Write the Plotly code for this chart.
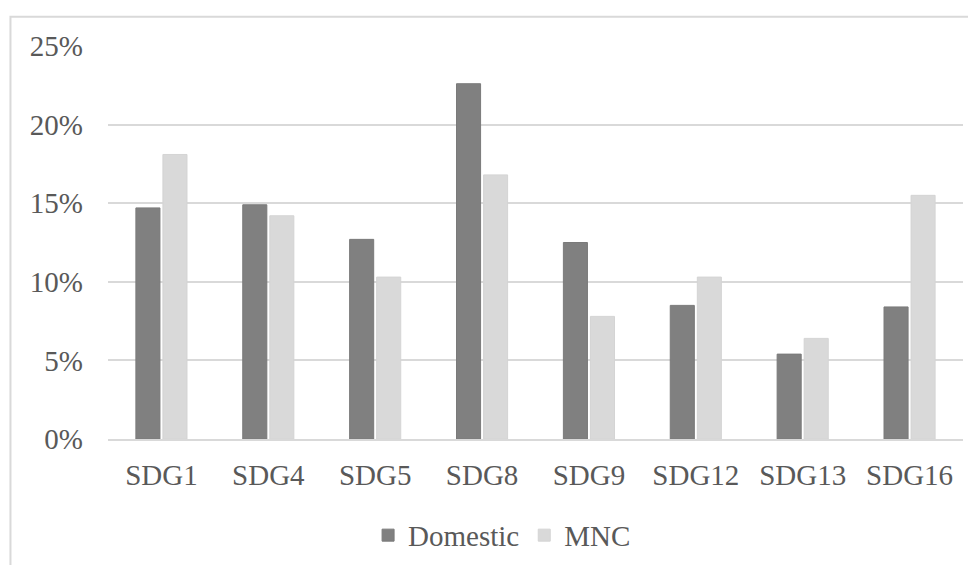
import plotly.graph_objects as go

categories = ["SDG1", "SDG4", "SDG5", "SDG8", "SDG9", "SDG12", "SDG13", "SDG16"]
domestic = [0.147, 0.149, 0.127, 0.226, 0.125, 0.085, 0.054, 0.084]
mnc = [0.181, 0.142, 0.103, 0.168, 0.078, 0.103, 0.064, 0.155]
y_ticks = [0, 0.05, 0.10, 0.15, 0.20, 0.25]
y_tick_labels = ["0%", "5%", "10%", "15%", "20%", "25%"]

FONT = "Liberation Serif"
TXT = "#595959"

fig = go.Figure()
fig.add_trace(go.Bar(name="Domestic", x=categories, y=domestic,
                     marker=dict(color="#808080", line=dict(color="#7a7a7a", width=1))))
fig.add_trace(go.Bar(name="MNC", x=categories, y=mnc,
                     marker=dict(color="#d9d9d9", line=dict(color="#d4d4d4", width=1))))

# page body has an 8px margin: work in screen coords and shift
S = 8
W, H = 976, 565
L = 108 - S
T = 45.7 - S
R = W - (962.7 - S)
B = H - (439.5 - S)
pw, ph = W - L - R, H - T - B

def px(x):  # screen x -> paper
    return (x - S - L) / pw

def py(y):  # screen y -> paper
    return (H - B - (y - S)) / ph

fig.update_layout(
    width=W, height=H,
    margin=dict(l=L, r=R, t=T, b=B, pad=0),
    paper_bgcolor="white", plot_bgcolor="white",
    barmode="group", bargap=0.494, bargroupgap=0.11,
    font=dict(family=FONT, size=29, color=TXT),
    showlegend=True,
    legend=dict(orientation="h", x=px(368), xanchor="left", y=py(536), yanchor="middle",
                font=dict(family=FONT, size=29, color=TXT), itemwidth=30,
                bgcolor="rgba(0,0,0,0)", tracegroupgap=0),
    xaxis=dict(showgrid=False, showline=True, linecolor="#d9d9d9", linewidth=2,
               ticks="", tickfont=dict(family=FONT, size=29, color=TXT),
               ticklabelstandoff=9),
    yaxis=dict(range=[0, 0.25], tickvals=y_ticks, ticktext=y_tick_labels,
               showgrid=True, gridcolor="#d9d9d9", gridwidth=2, zeroline=False,
               showline=False, ticks="", ticklabelstandoff=24,
               tickfont=dict(family=FONT, size=29, color=TXT)),
    shapes=[
        dict(type="rect", xref="paper", yref="paper",
             x0=px(10.5), x1=px(1000), y0=py(600), y1=py(16.5),
             line=dict(color="#d9d9d9", width=2), fillcolor="rgba(0,0,0,0)", layer="below"),
    ],
)

fig.write_html("out.html")
